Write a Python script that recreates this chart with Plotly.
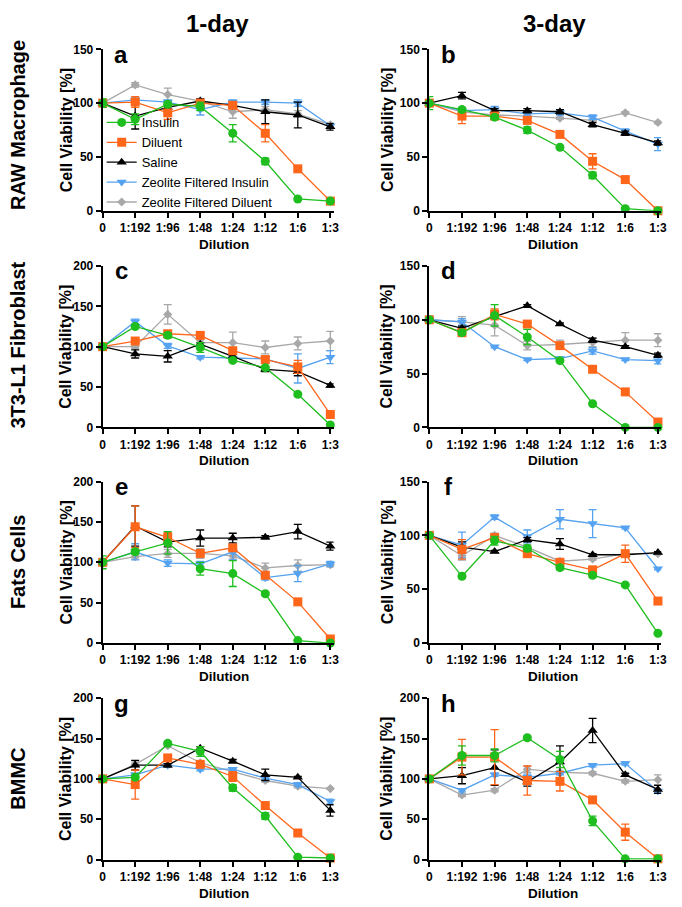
import plotly.graph_objects as go

W, H = 682, 907

dilutions = ["0", "1:192", "1:96", "1:48", "1:24", "1:12", "1:6", "1:3"]
series_names = ["Insulin", "Diluent", "Saline", "Zeolite Filtered Insulin", "Zeolite Filtered Diluent"]
row_labels = ["RAW Macrophage", "3T3-L1 Fibroblast", "Fats Cells", "BMMC"]
col_labels = ["1-day", "3-day"]
panel_letters = ["a", "b", "c", "d", "e", "f", "g", "h"]
panel_ymax = [150, 150, 200, 150, 200, 150, 200, 200]

# Panel a (RAW, 1-day)
a_ins = [100, 85, 99, 97, 72, 46, 11, 9]
a_ins_e = [4, 5, 2, 4, 8, 3, 1, 1]
a_dil = [100, 101, 91, 100, 98, 72, 39, 9]
a_dil_e = [3, 5, 6, 3, 3, 8, 2, 1]
a_sal = [100, 88, 96, 102, 98, 92, 89, 78]
a_sal_e = [2, 12, 3, 2, 3, 11, 12, 3]
a_zfi = [100, 103, 101, 94, 101, 101, 100, 79]
a_zfi_e = [2, 2, 2, 5, 2, 2, 3, 2]
a_zfd = [100, 117, 108, 102, 92, 94, 90, 80]
a_zfd_e = [2, 2, 6, 2, 6, 3, 3, 2]

# Panel b (RAW, 3-day)
b_ins = [100, 94, 87, 75, 59, 33, 2, 0]
b_ins_e = [6, 2, 2, 3, 1, 3, 1, 0]
b_dil = [100, 88, 88, 84, 71, 46, 29, 0]
b_dil_e = [3, 7, 2, 2, 2, 7, 2, 0]
b_sal = [100, 107, 93, 93, 92, 80, 72, 63]
b_sal_e = [3, 3, 2, 2, 2, 2, 2, 2]
b_zfi = [100, 93, 94, 90, 91, 87, 74, 62]
b_zfi_e = [2, 2, 3, 2, 2, 2, 2, 6]
b_zfd = [100, 92, 89, 88, 86, 84, 91, 82]
b_zfd_e = [2, 1, 1, 1, 1, 1, 1, 1]

# Panel c (3T3-L1, 1-day)
c_ins = [100, 125, 114, 99, 83, 74, 41, 3]
c_ins_e = [2, 2, 3, 6, 2, 2, 2, 1]
c_dil = [100, 107, 116, 114, 95, 84, 75, 16]
c_dil_e = [2, 3, 2, 3, 3, 4, 8, 2]
c_sal = [100, 91, 88, 103, 88, 72, 69, 52]
c_sal_e = [2, 5, 7, 2, 3, 3, 5, 2]
c_zfi = [100, 131, 101, 87, 86, 85, 73, 87]
c_zfi_e = [2, 3, 3, 2, 2, 3, 18, 8]
c_zfd = [100, 100, 140, 105, 105, 99, 104, 107]
c_zfd_e = [2, 2, 12, 3, 13, 8, 8, 12]

# Panel d (3T3-L1, 3-day)
d_ins = [100, 88, 104, 84, 62, 22, 0, 0]
d_ins_e = [1, 2, 10, 7, 1, 1, 0, 0]
d_dil = [100, 88, 105, 96, 76, 54, 33, 5]
d_dil_e = [1, 2, 5, 2, 2, 2, 2, 1]
d_sal = [100, 92, 103, 113, 96, 81, 75, 67]
d_sal_e = [1, 2, 2, 1, 1, 2, 1, 2]
d_zfi = [100, 98, 75, 63, 64, 71, 63, 62]
d_zfi_e = [1, 3, 1, 1, 1, 3, 1, 3]
d_zfd = [100, 98, 95, 76, 77, 79, 81, 81]
d_zfd_e = [1, 5, 10, 4, 4, 4, 7, 6]

# Panel e (Fats Cells, 1-day)
e_ins = [100, 113, 124, 92, 86, 61, 3, 0]
e_ins_e = [8, 3, 14, 8, 16, 2, 1, 0]
e_dil = [100, 144, 131, 111, 118, 84, 51, 5]
e_dil_e = [4, 26, 6, 3, 3, 3, 2, 1]
e_sal = [100, 145, 125, 130, 130, 131, 138, 120]
e_sal_e = [3, 25, 6, 10, 6, 2, 9, 5]
e_zfi = [100, 113, 99, 98, 113, 81, 86, 98]
e_zfi_e = [3, 10, 4, 3, 10, 3, 10, 3]
e_zfd = [100, 107, 111, 111, 108, 93, 96, 97]
e_zfd_e = [3, 3, 5, 6, 4, 6, 7, 3]

# Panel f (Fats Cells, 3-day)
f_ins = [100, 62, 95, 88, 70, 63, 54, 9]
f_ins_e = [1, 2, 4, 3, 2, 2, 1, 1]
f_dil = [100, 87, 98, 83, 75, 68, 83, 39]
f_dil_e = [1, 9, 2, 2, 2, 2, 8, 1]
f_sal = [100, 89, 85, 96, 92, 82, 82, 84]
f_sal_e = [1, 5, 1, 2, 5, 1, 1, 1]
f_zfi = [100, 91, 117, 99, 115, 111, 107, 69]
f_zfi_e = [1, 12, 2, 6, 9, 13, 1, 1]
f_zfd = [100, 81, 100, 89, 76, 78, 83, 83]
f_zfd_e = [1, 4, 2, 2, 1, 1, 1, 1]

# Panel g (BMMC, 1-day)
g_ins = [100, 102, 144, 134, 89, 54, 3, 2]
g_ins_e = [3, 3, 2, 6, 4, 4, 1, 1]
g_dil = [100, 93, 126, 118, 103, 67, 33, 2]
g_dil_e = [3, 18, 3, 2, 6, 2, 1, 1]
g_sal = [100, 117, 117, 138, 122, 105, 102, 61]
g_sal_e = [3, 6, 2, 2, 2, 7, 1, 7]
g_zfi = [100, 105, 117, 112, 112, 101, 93, 72]
g_zfi_e = [2, 2, 2, 2, 2, 2, 2, 3]
g_zfd = [100, 118, 141, 120, 109, 98, 91, 88]
g_zfd_e = [2, 3, 2, 2, 2, 2, 2, 1]

# Panel h (BMMC, 3-day)
h_ins = [100, 129, 129, 151, 124, 48, 1, 1]
h_ins_e = [1, 12, 8, 2, 10, 6, 0, 0]
h_dil = [100, 127, 127, 98, 97, 74, 34, 1]
h_dil_e = [1, 22, 34, 18, 12, 2, 10, 0]
h_sal = [100, 104, 114, 96, 121, 160, 105, 87]
h_sal_e = [1, 10, 22, 5, 20, 15, 2, 5]
h_zfi = [100, 86, 105, 102, 107, 117, 119, 85]
h_zfi_e = [1, 2, 2, 4, 2, 2, 2, 2]
h_zfd = [100, 80, 86, 112, 108, 107, 97, 99]
h_zfd_e = [1, 2, 2, 4, 2, 2, 2, 6]

panels = [
    [(a_ins, a_ins_e), (a_dil, a_dil_e), (a_sal, a_sal_e), (a_zfi, a_zfi_e), (a_zfd, a_zfd_e)],
    [(b_ins, b_ins_e), (b_dil, b_dil_e), (b_sal, b_sal_e), (b_zfi, b_zfi_e), (b_zfd, b_zfd_e)],
    [(c_ins, c_ins_e), (c_dil, c_dil_e), (c_sal, c_sal_e), (c_zfi, c_zfi_e), (c_zfd, c_zfd_e)],
    [(d_ins, d_ins_e), (d_dil, d_dil_e), (d_sal, d_sal_e), (d_zfi, d_zfi_e), (d_zfd, d_zfd_e)],
    [(e_ins, e_ins_e), (e_dil, e_dil_e), (e_sal, e_sal_e), (e_zfi, e_zfi_e), (e_zfd, e_zfd_e)],
    [(f_ins, f_ins_e), (f_dil, f_dil_e), (f_sal, f_sal_e), (f_zfi, f_zfi_e), (f_zfd, f_zfd_e)],
    [(g_ins, g_ins_e), (g_dil, g_dil_e), (g_sal, g_sal_e), (g_zfi, g_zfi_e), (g_zfd, g_zfd_e)],
    [(h_ins, h_ins_e), (h_dil, h_dil_e), (h_sal, h_sal_e), (h_zfi, h_zfi_e), (h_zfd, h_zfd_e)],
]

colors = ["#1EBE1E", "#FF661A", "#000000", "#55A2F0", "#A8A8A8"]
symbols = ["circle", "square", "triangle-up", "triangle-down", "diamond"]
msizes = [9, 9, 9, 9, 7]

FONT = "Liberation Sans, Arial, sans-serif"

# layout geometry (pixels)
col_x = [(101, 335), (432, 667)]
row_y = [(43, 207), (263, 427), (482, 646), (702, 866)]

fig = go.Figure()
layout = dict(
    width=W, height=H,
    margin=dict(l=0, r=0, t=0, b=0),
    paper_bgcolor="white", plot_bgcolor="white",
    showlegend=True,
    legend=dict(x=100 / W, y=1 - 102 / H, xanchor="left", yanchor="top",
                font=dict(family=FONT, size=13, color="black"),
                bgcolor="rgba(0,0,0,0)", traceorder="reversed",
                itemwidth=30),
    font=dict(family=FONT, color="black"),
)

annotations = []

for i in range(8):
    r, c = divmod(i, 2)
    k = "" if i == 0 else str(i + 1)
    x0, x1 = col_x[c]
    y0, y1 = row_y[r]
    ymax = panel_ymax[i]
    layout["xaxis" + k] = dict(
        domain=[x0 / W, x1 / W], range=[0, 7.1], anchor="y" + k,
        tickmode="array", tickvals=list(range(len(dilutions))), ticktext=dilutions,
        showline=True, linewidth=2, linecolor="black", ticks="outside",
        ticklen=5, tickwidth=2, tickcolor="black", showgrid=False, zeroline=False,
        tickfont=dict(family=FONT, size=12, color="black", weight="bold"),
        fixedrange=True,
    )
    layout["yaxis" + k] = dict(
        domain=[1 - y1 / H, 1 - y0 / H], range=[0, ymax], anchor="x" + k,
        tickmode="array", tickvals=list(range(0, ymax + 1, 50)),
        showline=True, linewidth=2, linecolor="black", ticks="outside",
        ticklen=5, tickwidth=2, tickcolor="black", showgrid=False, zeroline=False,
        tickfont=dict(family=FONT, size=12, color="black", weight="bold"),
        fixedrange=True,
    )
    # draw gray first, insulin last (on top)
    for s in [4, 3, 2, 1, 0]:
        vals, errs = panels[i][s]
        fig.add_trace(go.Scatter(
            x=list(range(len(dilutions))), y=vals,
            xaxis="x" + k, yaxis="y" + k,
            mode="lines+markers", name=series_names[s],
            legendgroup=series_names[s], showlegend=(i == 0),
            line=dict(color=colors[s], width=1.3),
            marker=dict(symbol=symbols[s], size=msizes[s], color=colors[s],
                        line=dict(width=0)),
            error_y=dict(type="data", array=errs, visible=True, color=colors[s],
                         thickness=1.3, width=4),
            cliponaxis=False,
        ))
    # panel letter
    annotations.append(dict(
        x=(x0 + 19) / W, y=1 - (y0 + 5) / H, xref="paper", yref="paper",
        text="<b>%s</b>" % panel_letters[i], showarrow=False,
        xanchor="center", yanchor="middle",
        font=dict(family=FONT, size=24, color="black")))
    # x title
    annotations.append(dict(
        x=(224 if c == 0 else 557) / W, y=1 - (y1 + 34) / H, xref="paper", yref="paper",
        text="<b>Dilution</b>", showarrow=False, xanchor="center", yanchor="middle",
        font=dict(family=FONT, size=13.5, color="black")))
    # y title
    annotations.append(dict(
        x=(64 if c == 0 else 389) / W, y=1 - ((y0 + y1) / 2) / H, xref="paper", yref="paper",
        text="<b>Cell Viability [%]</b>", showarrow=False, textangle=-90,
        xanchor="center", yanchor="middle",
        font=dict(family=FONT, size=16, color="black")))

row_centers = [120, 343, 564, 784]
for r, lab in enumerate(row_labels):
    annotations.append(dict(
        x=15 / W, y=1 - row_centers[r] / H, xref="paper", yref="paper",
        text="<b>%s</b>" % lab, showarrow=False, textangle=-90,
        xanchor="center", yanchor="middle",
        font=dict(family=FONT, size=20, color="black")))

for c, lab in enumerate(col_labels):
    annotations.append(dict(
        x=(217 if c == 0 else 559) / W, y=1 - 17 / H, xref="paper", yref="paper",
        text="<b>%s</b>" % lab, showarrow=False, xanchor="center", yanchor="middle",
        font=dict(family=FONT, size=24, color="black")))

layout["annotations"] = annotations
fig.update_layout(**layout)
fig.write_html("out.html", config={"displayModeBar": False},
               post_script="document.body.style.margin='0px'; document.body.style.overflow='hidden';")
